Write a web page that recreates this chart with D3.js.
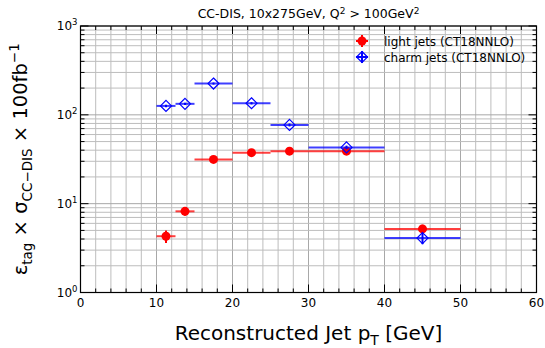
<!DOCTYPE html>
<html>
<head>
<meta charset="utf-8">
<script src="https://cdn.jsdelivr.net/npm/d3@7"></script>
<style>
  body { margin: 0; background: #fff; }
  text { font-family: "DejaVu Sans", sans-serif; fill: #000; }
</style>
</head>
<body>
<svg id="chart" width="545" height="348"></svg>
<script>
// bins in reconstructed jet pT
var binLo = [10, 12.5, 15, 20, 25, 30, 40];
var binHi = [12.5, 15, 20, 25, 30, 40, 50];
var binCenter = [11.25, 13.75, 17.5, 22.5, 27.5, 35, 45];

var lightVals = [4.3, 8.2, 31.5, 37.5, 39, 39, 5.2];
var lightErr = [0.7, 0.9, 1.2, 1.3, 1.3, 1.3, 0.6];
var charmVals = [126, 133, 225, 135, 77, 43, 4.1];
var charmErr = [4, 4, 6, 4, 3, 2, 0.6];

var xTicks = [0, 10, 20, 30, 40, 50, 60];
var yTicks = [1, 10, 100, 1000];

var margin = { top: 26, right: 8.5, bottom: 55.5, left: 80.5 },
  width = 545 - margin.left - margin.right,
  height = 348 - margin.top - margin.bottom;

var svg = d3.select("#chart");
var canvas = svg.append("g")
  .attr("transform", "translate(" + margin.left + "," + margin.top + ")");

var xScale = d3.scaleLinear().domain([0, 60]).range([0, width]);
var yScale = d3.scaleLog().domain([1, 1000]).range([height, 0]);

// minor values
var xMinor = d3.range(0, 61, 2);
var yMinor = [];
[1, 10, 100].forEach(function(d) {
  for (var k = 2; k <= 9; k++) yMinor.push(d * k);
});

// grid
var grid = canvas.append("g").attr("class", "grid");
grid.selectAll(".vx")
  .data(xMinor)
  .enter().append("line")
  .attr("x1", function(d) { return xScale(d); })
  .attr("x2", function(d) { return xScale(d); })
  .attr("y1", 0).attr("y2", height)
  .style("stroke", function(d) { return d % 10 === 0 ? "#a8a8a8" : "#bdbdbd"; })
  .style("stroke-width", 1);
grid.selectAll(".hy")
  .data(yMinor.concat(yTicks))
  .enter().append("line")
  .attr("x1", 0).attr("x2", width)
  .attr("y1", function(d) { return yScale(d); })
  .attr("y2", function(d) { return yScale(d); })
  .style("stroke", function(d) { return yTicks.indexOf(d) >= 0 ? "#a8a8a8" : "#bdbdbd"; })
  .style("stroke-width", 1);

// ticks on all four sides, pointing inward
var tickG = canvas.append("g").style("stroke", "#000").style("stroke-width", 1);
function vTicks(vals, len, y0, dir) {
  tickG.selectAll(null).data(vals).enter().append("line")
    .attr("x1", function(d) { return xScale(d); })
    .attr("x2", function(d) { return xScale(d); })
    .attr("y1", y0).attr("y2", y0 + dir * len);
}
function hTicks(vals, len, x0, dir) {
  tickG.selectAll(null).data(vals).enter().append("line")
    .attr("y1", function(d) { return yScale(d); })
    .attr("y2", function(d) { return yScale(d); })
    .attr("x1", x0).attr("x2", x0 + dir * len);
}
vTicks(xTicks, 8, height, -1);
vTicks(xMinor, 4, height, -1);
vTicks(xTicks, 8, 0, 1);
vTicks(xMinor, 4, 0, 1);
hTicks(yTicks, 8, 0, 1);
hTicks(yMinor, 4, 0, 1);
hTicks(yTicks, 8, width, -1);
hTicks(yMinor, 4, width, -1);

canvas.append("rect")
  .attr("width", width).attr("height", height)
  .style("fill", "none").style("stroke", "#000").style("stroke-width", 1.2);

// tick labels
canvas.selectAll(".xl")
  .data(xTicks)
  .enter().append("text")
  .attr("x", function(d) { return xScale(d); })
  .attr("y", height + 14)
  .style("font-size", "12px")
  .style("text-anchor", "middle")
  .text(function(d) { return d; });

var yl = canvas.selectAll(".yl")
  .data(yTicks)
  .enter().append("text")
  .attr("x", -3)
  .attr("y", function(d) { return yScale(d) + 4; })
  .style("font-size", "12px")
  .style("text-anchor", "end");
yl.append("tspan").text("10");
yl.append("tspan")
  .attr("dy", -5)
  .style("font-size", "8.5px")
  .text(function(d) { return Math.round(Math.log10(d)); });

// series
var light = binCenter.map(function(c, i) {
  return { x: c, lo: binLo[i], hi: binHi[i], y: lightVals[i], e: lightErr[i] };
});
var charm = binCenter.map(function(c, i) {
  return { x: c, lo: binLo[i], hi: binHi[i], y: charmVals[i], e: charmErr[i] };
});

function drawSeries(data, color, filled) {
  var g = canvas.append("g");
  g.selectAll(".xe").data(data).enter().append("line")
    .attr("x1", function(d) { return xScale(d.lo); })
    .attr("x2", function(d) { return xScale(d.hi); })
    .attr("y1", function(d) { return yScale(d.y); })
    .attr("y2", function(d) { return yScale(d.y); })
    .style("stroke", color).style("stroke-width", 2).style("opacity", 0.75);
  g.selectAll(".ye").data(data).enter().append("line")
    .attr("x1", function(d) { return xScale(d.x); })
    .attr("x2", function(d) { return xScale(d.x); })
    .attr("y1", function(d) { return yScale(d.y - d.e); })
    .attr("y2", function(d) { return yScale(d.y + d.e); })
    .style("stroke", color).style("stroke-width", 2);
  if (filled) {
    g.selectAll(".m").data(data).enter().append("circle")
      .attr("cx", function(d) { return xScale(d.x); })
      .attr("cy", function(d) { return yScale(d.y); })
      .attr("r", 4.5)
      .style("fill", color);
  } else {
    g.selectAll(".m").data(data).enter().append("path")
      .attr("transform", function(d) {
        return "translate(" + xScale(d.x) + "," + yScale(d.y) + ")";
      })
      .attr("d", "M0,-5.5L5.5,0L0,5.5L-5.5,0Z")
      .style("fill", "none").style("stroke", color).style("stroke-width", 1.2);
  }
}
drawSeries(light, "#ff0000", true);
drawSeries(charm, "#0000ff", false);

// legend
var legend = canvas.append("g").attr("transform", "translate(" + (362 - margin.left) + "," + (41 - margin.top) + ")");
var lg1 = legend.append("g");
lg1.append("line").attr("x1", -6).attr("x2", 6).style("stroke", "red").style("stroke-width", 2);
lg1.append("line").attr("y1", -6).attr("y2", 6).style("stroke", "red").style("stroke-width", 2);
lg1.append("circle").attr("r", 4.5).style("fill", "red");
legend.append("text").attr("x", 22).attr("y", 4.5).style("font-size", "12px").text("light jets (CT18NNLO)");
var lg2 = legend.append("g").attr("transform", "translate(0,16)");
lg2.append("line").attr("x1", -6).attr("x2", 6).style("stroke", "blue").style("stroke-width", 2);
lg2.append("line").attr("y1", -6).attr("y2", 6).style("stroke", "blue").style("stroke-width", 2);
lg2.append("path").attr("d", "M0,-5.5L5.5,0L0,5.5L-5.5,0Z")
  .style("fill", "none").style("stroke", "blue").style("stroke-width", 1.2);
legend.append("text").attr("x", 22).attr("y", 20.5).style("font-size", "12px").text("charm jets (CT18NNLO)");

// title
var title = svg.append("text")
  .attr("x", margin.left + width / 2)
  .attr("y", 18)
  .style("font-size", "12.5px")
  .style("text-anchor", "middle");
title.append("tspan").text("CC-DIS, 10x275GeV, Q");
title.append("tspan").attr("dy", -4).style("font-size", "9px").text("2");
title.append("tspan").attr("dy", 4).text(" > 100GeV");
title.append("tspan").attr("dy", -4).style("font-size", "9px").text("2");

// x label
var xl = svg.append("text")
  .attr("x", margin.left + width / 2)
  .attr("y", 340)
  .style("font-size", "20px")
  .style("text-anchor", "middle");
xl.append("tspan").text("Reconstructed Jet p");
xl.append("tspan").attr("dy", 5).style("font-size", "14px").text("T");
xl.append("tspan").attr("dy", -5).text(" [GeV]");

// y label
var ylab = svg.append("text")
  .attr("transform", "translate(27," + (margin.top + height / 2) + ") rotate(-90)")
  .style("font-size", "19.5px")
  .style("text-anchor", "middle");
ylab.append("tspan").text("\u03b5");
ylab.append("tspan").attr("dy", 5).style("font-size", "13.5px").text("tag");
ylab.append("tspan").attr("dy", -5).text(" \u00d7 \u03c3");
ylab.append("tspan").attr("dy", 5).style("font-size", "13.5px").text("CC\u2212DIS");
ylab.append("tspan").attr("dy", -5).text(" \u00d7 100fb");
ylab.append("tspan").attr("dy", -8).style("font-size", "13.5px").text("\u22121");
</script>
</body>
</html>
